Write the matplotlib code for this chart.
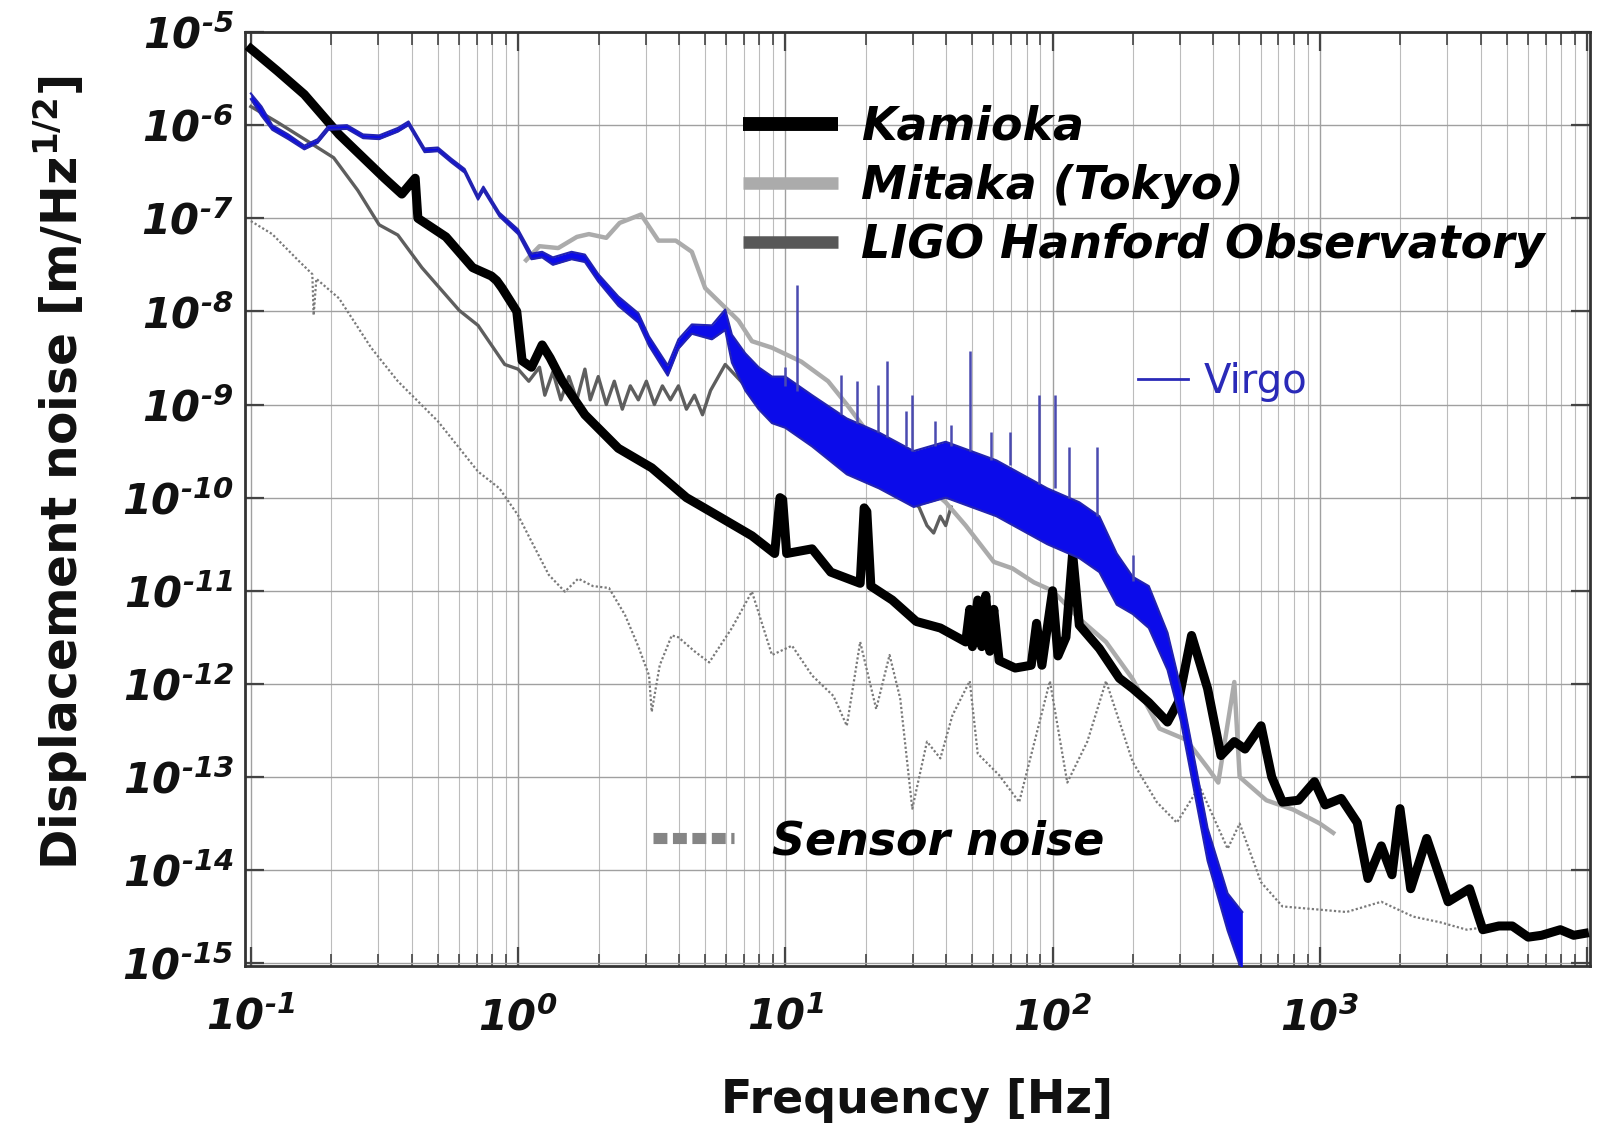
import numpy as np
import matplotlib
matplotlib.use("Agg")
import matplotlib.pyplot as plt
from matplotlib.lines import Line2D
from matplotlib.ticker import FixedLocator, FuncFormatter, LogLocator, NullLocator

plt.rcParams['font.family'] = ['DejaVu Sans']
plt.rcParams['mathtext.fontset'] = 'custom'
plt.rcParams['mathtext.rm'] = 'DejaVu Sans:italic:bold'
plt.rcParams['mathtext.it'] = 'DejaVu Sans:italic:bold'
plt.rcParams['mathtext.bf'] = 'DejaVu Sans:italic:bold'
plt.rcParams['mathtext.sf'] = 'DejaVu Sans:bold'

# ---------------- data (log10 frequency [Hz], log10 ASD [m/Hz^1/2]) ----------------
kamioka_logf = [-1.0, -0.90, -0.80, -0.67, -0.50, -0.435, -0.40, -0.385, -0.375, -0.27,
                -0.17, -0.10, -0.08, -0.06, -0.005, 0.015, 0.05, 0.09, 0.12, 0.165,
                0.25, 0.375, 0.50, 0.63, 0.75, 0.875, 0.96, 0.98, 0.99, 1.005,
                1.10, 1.17, 1.28, 1.295, 1.305, 1.32, 1.40, 1.49, 1.58, 1.675,
                1.69, 1.70, 1.72, 1.735, 1.75, 1.765, 1.78, 1.80, 1.86, 1.92,
                1.94, 1.96, 2.0, 2.02, 2.05, 2.075, 2.10, 2.175, 2.25, 2.30,
                2.36, 2.43, 2.47, 2.52, 2.58, 2.63, 2.68, 2.72, 2.78, 2.82,
                2.86, 2.92, 2.98, 3.02, 3.08, 3.14, 3.18, 3.23, 3.27, 3.30,
                3.34, 3.40, 3.48, 3.56, 3.61, 3.67, 3.72, 3.78, 3.83, 3.90,
                3.95, 3.99]
kamioka_log = [-5.18, -5.42, -5.67, -6.10, -6.57, -6.74, -6.62, -6.57, -7.0, -7.2,
               -7.53, -7.62, -7.67, -7.75, -8.0, -8.53, -8.6, -8.36, -8.5, -8.75,
               -9.11, -9.47, -9.68, -10.0, -10.2, -10.41, -10.6, -10.0, -10.02, -10.6,
               -10.55, -10.8, -10.92, -10.11, -10.15, -10.95, -11.1, -11.33, -11.4, -11.55,
               -11.2, -11.6, -11.1, -11.6, -11.05, -11.65, -11.2, -11.75, -11.83, -11.8,
               -11.35, -11.8, -11.0, -11.7, -11.5, -10.6, -11.37, -11.62, -11.94, -12.05,
               -12.2, -12.41, -12.2, -11.48, -12.05, -12.77, -12.62, -12.7, -12.45, -13.0,
               -13.27, -13.25, -13.05, -13.3, -13.23, -13.49, -14.09, -13.74, -14.05, -13.34,
               -14.2, -13.66, -14.34, -14.2, -14.64, -14.6, -14.6, -14.72, -14.70, -14.64,
               -14.7, -14.68]

mitaka_logf = [0.03, 0.08, 0.15, 0.22, 0.265, 0.33, 0.38, 0.46, 0.525, 0.59,
               0.65, 0.70, 0.775, 0.825, 0.875, 0.95, 1.06, 1.16, 1.23, 1.35,
               1.50, 1.60, 1.675, 1.78, 1.85, 1.93, 2.0, 2.10, 2.20, 2.30,
               2.40, 2.50, 2.58, 2.62, 2.68, 2.70, 2.80, 2.90, 3.0, 3.05]
mitaka_log = [-7.45, -7.30, -7.32, -7.20, -7.17, -7.21, -7.05, -6.96, -7.24, -7.24,
              -7.36, -7.75, -7.96, -8.10, -8.32, -8.39, -8.54, -8.75, -9.0, -9.46,
              -9.8, -10.05, -10.30, -10.69, -10.76, -10.91, -11.0, -11.3, -11.55, -11.95,
              -12.48, -12.6, -12.9, -13.06, -11.98, -13.0, -13.25, -13.35, -13.5, -13.6]

ligo_logf = [-1.0, -0.90, -0.80, -0.69, -0.60, -0.52, -0.45, -0.36, -0.22,
             -0.15, -0.05, 0.0, 0.04, 0.08, 0.10, 0.13, 0.16, 0.19, 0.22,
             0.25, 0.27, 0.30, 0.33, 0.36, 0.39, 0.42, 0.45, 0.48, 0.51,
             0.54, 0.57, 0.60, 0.63, 0.66, 0.69, 0.72, 0.775, 0.85, 0.95,
             1.05, 1.15, 1.25, 1.35, 1.45, 1.50, 1.53, 1.555, 1.58, 1.60, 1.62]
ligo_log = [-5.80, -5.97, -6.15, -6.35, -6.7, -7.07, -7.18, -7.53, -7.99,
            -8.15, -8.57, -8.62, -8.75, -8.6, -8.9, -8.65, -8.95, -8.7, -8.95,
            -8.62, -8.95, -8.7, -9.0, -8.75, -9.05, -8.8, -8.95, -8.75, -9.0,
            -8.8, -8.95, -8.8, -9.05, -8.9, -9.11, -8.85, -8.57, -8.8, -9.1,
            -9.3, -9.4, -9.6, -9.8, -10.0, -10.1, -10.3, -10.38, -10.2, -10.3, -10.1]

virgo_logf = [-1.0, -0.96, -0.92, -0.86, -0.80, -0.75, -0.71, -0.64, -0.58, -0.52,
              -0.45, -0.41, -0.35, -0.30, -0.25, -0.20, -0.15, -0.13, -0.07, 0.0,
              0.05, 0.09, 0.13, 0.20, 0.25, 0.30, 0.375, 0.45, 0.49, 0.56,
              0.60, 0.65, 0.725, 0.775, 0.80, 0.85, 0.90, 0.95, 1.00, 1.10,
              1.23, 1.35, 1.48, 1.60, 1.79, 1.98, 2.10, 2.175, 2.24, 2.30,
              2.36, 2.43, 2.48, 2.53, 2.58, 2.655, 2.71]
virgo_lo = [-5.72, -5.90, -6.05, -6.15, -6.26, -6.19, -6.05, -6.04, -6.14, -6.15,
            -6.07, -6.00, -6.29, -6.28, -6.40, -6.51, -6.80, -6.70, -6.98, -7.17,
            -7.44, -7.42, -7.50, -7.44, -7.47, -7.68, -7.94, -8.12, -8.37, -8.69,
            -8.40, -8.24, -8.30, -8.20, -8.55, -8.85, -9.05, -9.2, -9.25, -9.45,
            -9.75, -9.9, -10.1, -10.0, -10.2, -10.5, -10.65, -10.8, -11.15, -11.25,
            -11.4, -11.85, -12.4, -13.15, -13.9, -14.65, -15.1]
virgo_hi = [-5.66, -5.80, -6.0, -6.1, -6.22, -6.15, -6.01, -6.0, -6.10, -6.11,
            -6.03, -5.96, -6.25, -6.24, -6.36, -6.47, -6.76, -6.66, -6.94, -7.12,
            -7.38, -7.36, -7.42, -7.36, -7.39, -7.60, -7.84, -8.02, -8.27, -8.58,
            -8.30, -8.14, -8.15, -7.98, -8.25, -8.45, -8.60, -8.7, -8.7, -8.9,
            -9.15, -9.3, -9.5, -9.4, -9.6, -9.9, -10.05, -10.2, -10.6, -10.85,
            -10.95, -11.45, -12.05, -12.8, -13.55, -14.25, -14.45]
virgo_spike_logf = [1.0, 1.045, 1.21, 1.27, 1.345, 1.38, 1.45, 1.475, 1.56, 1.62,
                    1.69, 1.77, 1.84, 1.95, 2.01, 2.06, 2.165, 2.30]
virgo_spike_base = [-8.8, -8.85, -9.1, -9.2, -9.3, -9.35, -9.45, -9.5, -9.45, -9.45,
                    -9.5, -9.6, -9.65, -9.85, -9.9, -10.0, -10.2, -10.9]
virgo_spike_top = [-8.6, -7.72, -8.68, -8.75, -8.79, -8.53, -9.07, -8.9, -9.18, -9.22,
                   -8.43, -9.29, -9.29, -8.9, -8.9, -9.46, -9.46, -10.62]

sensor_logf = [-1.0, -0.92, -0.82, -0.77, -0.765, -0.755, -0.67, -0.55, -0.45, -0.30,
               -0.15, -0.07, 0.0, 0.05, 0.115, 0.175, 0.225, 0.28, 0.34, 0.40,
               0.45, 0.49, 0.50, 0.53, 0.575, 0.60, 0.66, 0.715, 0.80, 0.875,
               0.95, 1.025, 1.10, 1.18, 1.23, 1.28, 1.34, 1.39, 1.43, 1.475,
               1.53, 1.58, 1.625, 1.69, 1.72, 1.80, 1.875, 1.99, 2.055, 2.13,
               2.20, 2.30, 2.39, 2.465, 2.55, 2.655, 2.70, 2.78, 2.86, 2.98,
               3.10, 3.23, 3.35, 3.45, 3.55, 3.60]
sensor_log = [-7.03, -7.17, -7.46, -7.6, -8.04, -7.65, -7.86, -8.39, -8.75, -9.18,
              -9.72, -9.90, -10.19, -10.47, -10.83, -11.01, -10.87, -10.95, -10.97, -11.26,
              -11.6, -11.91, -12.30, -11.8, -11.48, -11.5, -11.65, -11.77, -11.40, -11.01,
              -11.69, -11.59, -11.91, -12.13, -12.45, -11.55, -12.27, -11.69, -12.16, -13.34,
              -12.62, -12.8, -12.34, -11.97, -12.75, -12.98, -13.27, -11.97, -13.06, -12.62,
              -11.97, -12.84, -13.27, -13.49, -13.1, -13.77, -13.5, -14.13, -14.39, -14.42,
              -14.45, -14.34, -14.5, -14.56, -14.64, -14.62]

x_tick_exp = [-1, 0, 1, 2, 3, 4]
x_label_exp = [-1, 0, 1, 2, 3]
y_tick_exp = list(range(-15, -4))

series_names = ["Kamioka", "Mitaka (Tokyo)", "LIGO Hanford Observatory"]

# ---------------- figure ----------------
fig = plt.figure(figsize=(15.98, 11.28), dpi=100)
ax = fig.add_axes([0.1533, 0.1436, 0.8417, 0.828])
ax.set_xscale('log')
ax.set_yscale('log')
ax.set_xlim(10 ** -1.022, 10 ** 4.011)
ax.set_ylim(10 ** -15.03, 1e-5)

P = lambda a: 10.0 ** np.asarray(a)

blue_fill = '#0b0bea'
blue_line = '#2323b0'
c_mitaka = '#ababab'
c_ligo = '#5e5e5e'

ax.plot(P(sensor_logf), P(sensor_log), color='#7a7a7a', lw=1.6, ls=(0, (1, 1)), zorder=2)
ax.plot(P(ligo_logf), P(ligo_log), color=c_ligo, lw=2.4, zorder=3)
ax.plot(P(mitaka_logf), P(mitaka_log), color=c_mitaka, lw=3.2, zorder=4)
ax.plot(P(kamioka_logf), P(kamioka_log), color='black', lw=6.5, zorder=5)
ax.fill_between(P(virgo_logf), P(virgo_lo), P(virgo_hi), color=blue_fill, lw=0, zorder=6)
ax.plot(P(virgo_logf), P(virgo_hi), color=blue_line, lw=1.5, zorder=6)
ax.plot(P(virgo_logf), P(virgo_lo), color=blue_line, lw=1.5, zorder=6)
ax.vlines(P(virgo_spike_logf), P(virgo_spike_base), P(virgo_spike_top),
          color='#4a4ab0', lw=1.8, zorder=6)

# ---------------- axes styling ----------------
ax.xaxis.set_major_locator(FixedLocator(P(x_tick_exp)))
ax.xaxis.set_minor_locator(LogLocator(base=10, subs=np.arange(2, 10), numticks=20))
ax.yaxis.set_major_locator(FixedLocator(P(y_tick_exp)))
ax.yaxis.set_minor_locator(NullLocator())

HY = '\u2010'


def pow_label(e):
    s = str(abs(e))
    if e < 0:
        s = HY + s
    return r'$10^{' + s + '}$'


def xfmt(v, pos):
    e = int(round(np.log10(v)))
    return pow_label(e) if e in x_label_exp else ''


def yfmt(v, pos):
    return pow_label(int(round(np.log10(v))))


ax.xaxis.set_major_formatter(FuncFormatter(xfmt))
ax.yaxis.set_major_formatter(FuncFormatter(yfmt))

ax.set_axisbelow(True)
ax.grid(which='major', axis='both', color='#a0a0a0', lw=1.0)
ax.grid(which='minor', axis='x', color='#bcbcbc', lw=0.8)

ax.tick_params(which='major', direction='in', length=14, width=1.6, color='#444444',
               top=True, right=True, labelsize=30, labelcolor='#111111')
ax.tick_params(which='minor', direction='in', length=9, width=1.2, color='#444444',
               top=True, right=True)
ax.tick_params(axis='x', which='major', pad=22)
ax.tick_params(axis='y', which='major', pad=8)
for s in ax.spines.values():
    s.set_linewidth(2.0)
    s.set_color('#333333')

ax.set_xlabel('Frequency [Hz]', fontsize=33, fontweight='bold', color='#111111')
ax.xaxis.set_label_coords(0.5, -0.120)
ax.set_ylabel(r'Displacement noise [m/Hz$^{\mathsf{1/2}}$]', fontsize=35,
              fontweight='bold', color='#111111')
ax.yaxis.set_label_coords(-0.115, 0.528)

# ---------------- legends ----------------
leg_font = dict(family='DejaVu Sans', weight='bold', style='italic', size=33)
h_main = [Line2D([], [], color='black', lw=10, solid_capstyle='butt'),
          Line2D([], [], color=c_mitaka, lw=9, solid_capstyle='butt'),
          Line2D([], [], color='#585858', lw=9, solid_capstyle='butt')]
leg1 = ax.legend(h_main, series_names, loc='upper left', bbox_to_anchor=(0.370, 0.922),
                 frameon=False, prop=leg_font, handlelength=2.09, handletextpad=0.5,
                 labelspacing=0.31, borderpad=0, borderaxespad=0)
leg1.set_zorder(10)
ax.add_artist(leg1)

h_sensor = [Line2D([], [], color='#858585', lw=8, ls=(0, (1.25, 0.5)), dash_capstyle='butt')]
leg2 = ax.legend(h_sensor, ['Sensor noise'], loc='center left', bbox_to_anchor=(0.3035, 0.133),
                 frameon=False, prop=leg_font, handlelength=1.77, handletextpad=0.82,
                 borderpad=0, borderaxespad=0)
leg2.set_zorder(10)
ax.add_artist(leg2)

h_virgo = [Line2D([], [], color='#2a2ab8', lw=2)]
leg3 = ax.legend(h_virgo, ['Virgo'], loc='center left', bbox_to_anchor=(0.664, 0.625),
                 frameon=False, prop=dict(family='DejaVu Sans', size=29),
                 handlelength=1.25, handletextpad=0.37, labelcolor='#2a2ab8',
                 borderpad=0, borderaxespad=0)
leg3.set_zorder(10)

fig.savefig('out.png', dpi=100)
